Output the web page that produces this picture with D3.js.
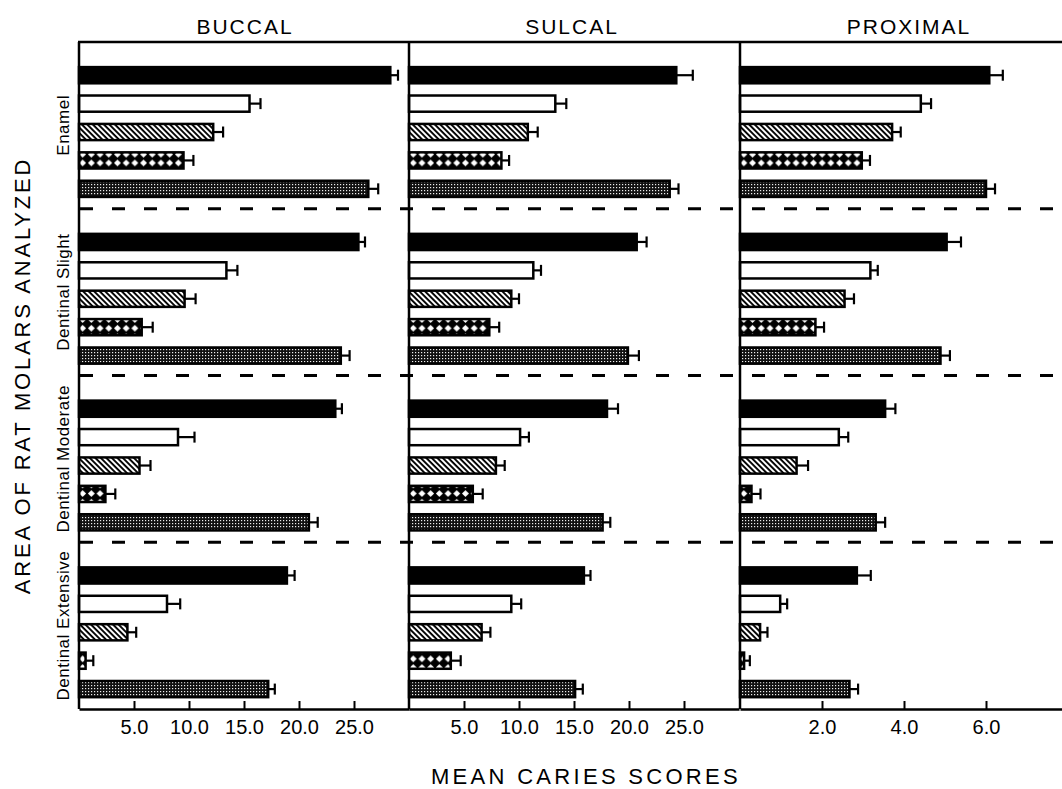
<!DOCTYPE html>
<html>
<head>
<meta charset="utf-8">
<script src="https://cdn.jsdelivr.net/npm/d3@7"></script>
<style>
  body { margin: 0; background: #fff; }
  svg { display: block; font-family: "Liberation Sans", Arial, sans-serif; }
</style>
</head>
<body>
<script>
// Chart data
var panels = ["BUCCAL", "SULCAL", "PROXIMAL"];
var areas = ["Enamel", "Dentinal Slight", "Dentinal Moderate", "Dentinal Extensive"];
var treatments = ["A", "B", "C", "D", "E"];

// rows = areas, columns = treatments
var buccalMeans = [
  [28.3, 15.5, 12.2, 9.5, 26.3],
  [25.4, 13.4, 9.6, 5.7, 23.8],
  [23.3, 9.0, 5.5, 2.4, 20.9],
  [18.9, 8.0, 4.4, 0.6, 17.2]
];
var buccalErr = [
  [0.7, 1.0, 0.9, 0.9, 0.9],
  [0.6, 1.0, 1.0, 1.0, 0.8],
  [0.6, 1.5, 1.0, 0.9, 0.8],
  [0.7, 1.2, 0.8, 0.7, 0.6]
];
var sulcalMeans = [
  [24.3, 13.3, 10.8, 8.4, 23.7],
  [20.7, 11.3, 9.3, 7.3, 19.9],
  [18.0, 10.1, 7.9, 5.8, 17.6],
  [15.9, 9.3, 6.6, 3.8, 15.1]
];
var sulcalErr = [
  [1.5, 1.0, 0.9, 0.7, 0.8],
  [0.9, 0.7, 0.7, 0.9, 1.0],
  [1.0, 0.8, 0.8, 0.9, 0.7],
  [0.6, 0.9, 0.8, 0.9, 0.7]
];
var proximalMeans = [
  [6.08, 4.41, 3.71, 2.97, 6.0],
  [5.04, 3.18, 2.55, 1.84, 4.89],
  [3.54, 2.41, 1.38, 0.28, 3.31],
  [2.85, 0.98, 0.49, 0.10, 2.67]
];
var proximalErr = [
  [0.33, 0.25, 0.21, 0.20, 0.22],
  [0.35, 0.18, 0.23, 0.21, 0.23],
  [0.25, 0.23, 0.28, 0.22, 0.23],
  [0.34, 0.17, 0.18, 0.14, 0.21]
];
var buccalTicks = [5, 10, 15, 20, 25];
var sulcalTicks = [5, 10, 15, 20, 25];
var proximalTicks = [2, 4, 6];
var buccalMax = 30, sulcalMax = 30, proximalMax = 8;

// SVG area
var svgWidth = 1062;
var svgHeight = 789;
var plotTop = 42, plotBottom = 709;

var svg = d3.select("body")
  .append("svg")
  .attr("width", svgWidth)
  .attr("height", svgHeight);

svg.append("rect").attr("width", svgWidth).attr("height", svgHeight).attr("fill", "#fff");

// Fill patterns for the bars
var defs = svg.append("defs");

var hatch = defs.append("pattern")
  .attr("id", "hatch")
  .attr("patternUnits", "userSpaceOnUse")
  .attr("width", 3.9).attr("height", 3.9)
  .attr("patternTransform", "rotate(-45)");
hatch.append("rect").attr("width", 3.9).attr("height", 3.9).attr("fill", "#fff");
hatch.append("line").attr("x1", 1).attr("x2", 1).attr("y1", 0).attr("y2", 3.9)
  .attr("stroke", "#000").attr("stroke-width", 1.9);

var cross = defs.append("pattern")
  .attr("id", "cross")
  .attr("patternUnits", "userSpaceOnUse")
  .attr("width", 8.7).attr("height", 8.7)
  .attr("y", 2);
cross.append("rect").attr("width", 8.7).attr("height", 8.7).attr("fill", "#000");
cross.append("path")
  .attr("d", "M4.35,0.9 L7.8,4.35 L4.35,7.8 L0.9,4.35 Z")
  .attr("fill", "#fff");

var stip = defs.append("pattern")
  .attr("id", "stipple")
  .attr("patternUnits", "userSpaceOnUse")
  .attr("width", 3).attr("height", 3);
stip.append("rect").attr("width", 3).attr("height", 3).attr("fill", "#111");
stip.append("rect").attr("x", 1).attr("y", 1).attr("width", 1.2).attr("height", 1.2).attr("fill", "#eee");

var fills = ["#000", "#fff", "url(#hatch)", "url(#cross)", "url(#stipple)"];

// Scales
var yArea = d3.scaleBand().domain(areas).range([plotTop, plotBottom]);
var yBar = d3.scaleBand().domain(treatments)
  .range([0, yArea.bandwidth()])
  .paddingInner(0.43).paddingOuter(0.65).align(0.68);

var panelDefs = [
  { name: panels[0], means: buccalMeans, err: buccalErr, ticks: buccalTicks, cx: 245,
    x: d3.scaleLinear().domain([0, buccalMax]).range([79, 409]) },
  { name: panels[1], means: sulcalMeans, err: sulcalErr, ticks: sulcalTicks, cx: 572,
    x: d3.scaleLinear().domain([0, sulcalMax]).range([409, 739]) },
  { name: panels[2], means: proximalMeans, err: proximalErr, ticks: proximalTicks, cx: 909,
    x: d3.scaleLinear().domain([0, proximalMax]).range([740, 1068]) }
];

// Dashed dividers between areas
svg.selectAll(".divider")
  .data(areas.slice(1))
  .enter()
  .append("line")
  .attr("class", "divider")
  .attr("x1", 80).attr("x2", svgWidth)
  .attr("y1", d => yArea(d)).attr("y2", d => yArea(d))
  .attr("stroke", "#000").attr("stroke-width", 3)
  .attr("stroke-dasharray", "13,19");

panelDefs.forEach(function(p) {
  var x = p.x;
  var rows = [];
  p.means.forEach(function(r, i) {
    r.forEach(function(v, j) {
      rows.push({ area: areas[i], t: treatments[j], j: j, v: v, e: p.err[i][j] });
    });
  });

  var g = svg.append("g");

  // bars
  g.selectAll("rect.bar")
    .data(rows)
    .enter()
    .append("rect")
    .attr("class", "bar")
    .attr("x", x(0))
    .attr("y", d => yArea(d.area) + yBar(d.t))
    .attr("width", d => x(d.v) - x(0))
    .attr("height", yBar.bandwidth())
    .attr("fill", d => fills[d.j])
    .attr("stroke", "#000")
    .attr("stroke-width", 2.5);

  // error bars
  g.selectAll("line.err")
    .data(rows)
    .enter()
    .append("line")
    .attr("class", "err")
    .attr("x1", d => x(d.v)).attr("x2", d => x(d.v + d.e))
    .attr("y1", d => yArea(d.area) + yBar(d.t) + yBar.bandwidth() / 2)
    .attr("y2", d => yArea(d.area) + yBar(d.t) + yBar.bandwidth() / 2)
    .attr("stroke", "#000").attr("stroke-width", 2.2);

  g.selectAll("line.cap")
    .data(rows)
    .enter()
    .append("line")
    .attr("class", "cap")
    .attr("x1", d => x(d.v + d.e)).attr("x2", d => x(d.v + d.e))
    .attr("y1", d => yArea(d.area) + yBar(d.t) + yBar.bandwidth() / 2 - 5.5)
    .attr("y2", d => yArea(d.area) + yBar(d.t) + yBar.bandwidth() / 2 + 5.5)
    .attr("stroke", "#000").attr("stroke-width", 2.2);

  // bottom axis
  var axis = d3.axisBottom(x)
    .tickValues(p.ticks)
    .tickFormat(d3.format(".1f"))
    .tickSize(-8)
    .tickSizeOuter(0)
    .tickPadding(11);

  var ax = svg.append("g")
    .attr("transform", `translate(0, ${plotBottom})`)
    .call(axis);
  ax.select(".domain").attr("stroke-width", 2.5);
  ax.selectAll(".tick line").attr("stroke-width", 2);
  ax.selectAll("text")
    .style("font-size", "20px")
    .style("font-family", "Liberation Sans, Arial, sans-serif")
    .attr("fill", "#000");

  // vertical left edge of panel
  svg.append("line")
    .attr("x1", x(0)).attr("x2", x(0))
    .attr("y1", plotTop).attr("y2", plotBottom)
    .attr("stroke", "#000").attr("stroke-width", 2.5);

  // panel title
  svg.append("text")
    .attr("x", p.cx)
    .attr("y", 34)
    .attr("text-anchor", "middle")
    .attr("font-size", "21px")
    .attr("letter-spacing", "2px")
    .text(p.name);
});

// top border
svg.append("line")
  .attr("x1", 78).attr("x2", svgWidth)
  .attr("y1", plotTop).attr("y2", plotTop)
  .attr("stroke", "#000").attr("stroke-width", 2.5);

// Area labels
svg.selectAll(".areaLabel")
  .data(areas)
  .enter()
  .append("text")
  .attr("class", "areaLabel")
  .attr("transform", d => `translate(63, ${yArea(d) + yArea.bandwidth() / 2}) rotate(-90)`)
  .attr("text-anchor", "middle")
  .attr("dy", "0.35em")
  .attr("font-size", "17px")
  .attr("letter-spacing", "0.5px")
  .text(d => d);

// Axis titles
svg.append("text")
  .attr("transform", `translate(22, ${(plotTop + plotBottom) / 2}) rotate(-90)`)
  .attr("text-anchor", "middle")
  .attr("dy", "0.35em")
  .attr("font-size", "22px")
  .attr("letter-spacing", "2.8px")
  .text("AREA OF RAT MOLARS ANALYZED");

svg.append("text")
  .attr("x", 586)
  .attr("y", 784)
  .attr("text-anchor", "middle")
  .attr("font-size", "22px")
  .attr("letter-spacing", "3.3px")
  .text("MEAN CARIES SCORES");
</script>
</body>
</html>
